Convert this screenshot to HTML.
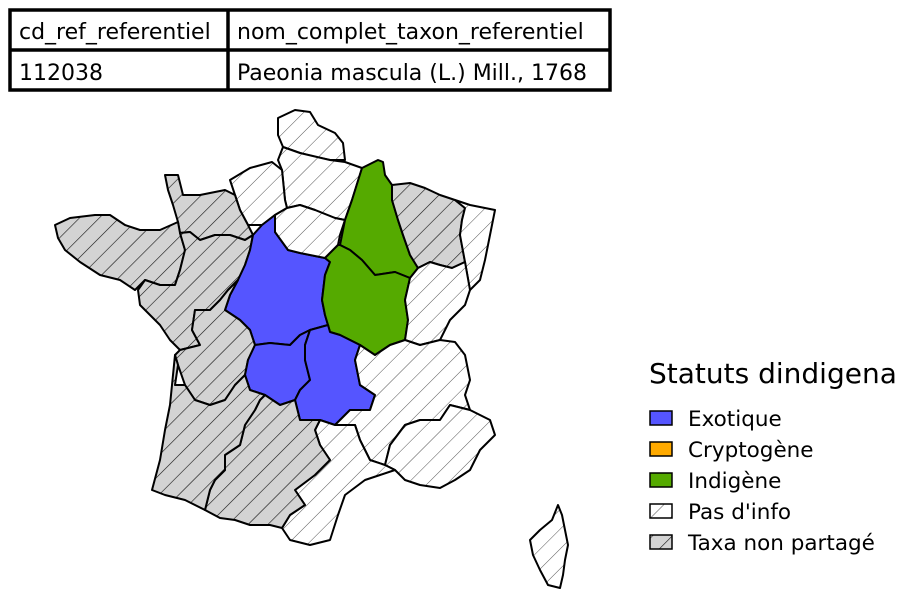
<!DOCTYPE html>
<html><head><meta charset="utf-8"><style>
html,body{margin:0;padding:0;background:#fff;}
svg{display:block;font-family:"DejaVu Sans","Liberation Sans",sans-serif;}
</style></head><body>
<svg id="chart" width="897" height="590" viewBox="0 0 897 590">
<defs>
<pattern id="hatchW" patternUnits="userSpaceOnUse" width="14" height="14" patternTransform="rotate(45)">
<rect width="14" height="14" fill="#fff"/><line x1="0" y1="0" x2="0" y2="14" stroke="#555" stroke-width="1"/>
</pattern>
<pattern id="hatchG" patternUnits="userSpaceOnUse" width="14" height="14" patternTransform="rotate(45)">
<rect width="14" height="14" fill="#d3d3d3"/><line x1="0" y1="0" x2="0" y2="14" stroke="#111" stroke-width="1.2"/>
</pattern>
</defs>
<g>
<rect x="10" y="10" width="600" height="80" fill="#fff" stroke="#000" stroke-width="3.5"/>
<line x1="10" y1="50" x2="610" y2="50" stroke="#000" stroke-width="3.5"/>
<line x1="228" y1="10" x2="228" y2="90" stroke="#000" stroke-width="3.5"/>
<text x="19" y="39" font-size="22">cd_ref_referentiel</text>
<text x="237" y="39" font-size="22">nom_complet_taxon_referentiel</text>
<text x="19" y="80" font-size="22">112038</text>
<text x="237" y="80" font-size="22">Paeonia mascula (L.) Mill., 1768</text>
</g>
<g id="map"></g>
<g>
<text x="649" y="383" font-size="28">Statuts dindigenat</text>
<g id="legend-items"></g>
</g>
</svg>
<script>
const regionNames = ["nord-pas-de-calais","picardie","haute-normandie","basse-normandie","bretagne","pays-de-la-loire","centre","ile-de-france","champagne-ardenne","lorraine","alsace","bourgogne","franche-comte","poitou-charentes","limousin","auvergne","rhone-alpes","provence-alpes-cote-dazur","languedoc-roussillon","midi-pyrenees","aquitaine","corse"];
const regionStatus = ["Pas d'info","Pas d'info","Pas d'info","Taxa non partagé","Taxa non partagé","Taxa non partagé","Exotique","Pas d'info","Indigène","Taxa non partagé","Pas d'info","Indigène","Pas d'info","Taxa non partagé","Exotique","Exotique","Pas d'info","Pas d'info","Pas d'info","Taxa non partagé","Taxa non partagé","Pas d'info"];
const legendLabels = ["Exotique","Cryptogène","Indigène","Pas d'info","Taxa non partagé"];
const fills = {"Exotique":"#5555ff","Cryptogène":"#ffaa00","Indigène":"#55aa00","Pas d'info":"url(#hatchW)","Taxa non partagé":"url(#hatchG)"};
const shapes = [
"278,118 295,110 310,112 318,125 335,133 343,143 345,160 330,160 315,157 300,153 283,147 278,135",
"283,147 300,153 330,160 345,162 362,168 352,200 345,220 335,218 315,210 300,205 287,208 285,200 282,170 278,160",
"230,180 250,168 272,162 282,170 285,200 287,208 275,215 262,225 248,225 240,210 235,195",
"165,175 178,175 183,195 200,195 225,190 235,195 240,210 248,225 253,235 245,240 230,235 215,235 200,240 190,232 180,233 178,222 173,205 168,190",
"55,225 70,218 95,215 110,215 125,225 140,230 160,230 178,222 180,233 185,250 180,270 175,285 160,285 145,280 135,290 120,280 100,275 80,262 65,250 58,238",
"180,233 190,232 200,240 215,235 230,235 245,240 253,235 250,250 245,265 238,280 228,290 220,300 210,310 195,310 192,330 200,345 180,350 170,340 160,325 150,315 140,305 138,290 145,280 160,285 175,285 180,270 185,250",
"253,235 262,225 275,215 275,232 288,250 300,253 325,258 330,262 325,275 322,300 325,315 328,325 310,330 300,335 290,345 270,343 255,345 250,330 240,320 225,310 230,295 238,280 245,265 250,250",
"275,215 287,208 300,205 315,210 335,218 345,220 340,235 338,245 325,258 300,253 288,250 275,232",
"362,168 378,160 383,162 385,175 392,185 392,200 398,220 403,235 410,255 418,268 410,278 395,272 375,275 362,260 350,250 340,245 345,220 352,200",
"392,185 410,183 425,188 440,195 455,200 465,208 462,220 460,235 465,262 452,268 440,265 430,262 418,268 410,255 403,235 398,220 392,200",
"455,200 470,205 495,210 490,235 485,260 480,280 470,290 465,262 460,235 462,220 465,208",
"340,245 350,250 362,260 375,275 395,272 410,278 405,300 408,320 405,340 390,345 375,355 360,345 340,335 330,332 328,325 325,315 322,300 325,275 330,262 325,258 338,245",
"418,268 430,262 440,265 452,268 465,262 470,290 465,305 450,320 440,340 420,345 405,340 408,320 405,300 410,278",
"200,345 192,330 195,310 210,310 220,300 228,290 238,280 230,295 225,310 240,320 250,330 255,345 248,360 245,375 235,385 225,400 210,405 195,400 185,385 178,365 175,355 180,350",
"255,345 270,343 290,345 300,335 310,330 305,345 305,360 310,380 300,390 295,400 280,405 265,395 250,390 245,375 248,360",
"310,330 328,325 330,332 340,335 360,345 355,360 360,385 375,395 370,410 350,410 335,425 320,420 300,420 295,400 300,390 310,380 305,360 305,345",
"360,345 375,355 390,345 405,340 420,345 440,340 455,342 465,355 470,380 465,395 470,410 450,405 440,420 420,420 405,425 390,445 385,465 370,460 360,440 355,425 335,425 350,410 370,410 375,395 360,385 355,360",
"385,465 390,445 405,425 420,420 440,420 450,405 470,410 490,420 495,435 480,450 470,470 455,480 440,488 420,485 405,480 395,470",
"320,420 335,425 355,425 360,440 370,460 385,465 395,470 380,475 365,480 345,495 338,515 330,540 310,545 290,540 282,528 290,515 305,505 295,490 315,475 330,460 320,445 315,430",
"265,395 280,405 295,400 300,420 320,420 315,430 320,445 330,460 315,475 295,490 305,505 290,515 282,528 270,525 250,525 235,520 220,518 205,510 210,490 215,480 225,470 225,455 240,445 245,425 255,410 260,400",
"175,385 185,385 195,400 210,405 225,400 235,385 245,375 250,390 265,395 260,400 255,410 245,425 240,445 225,455 225,470 215,480 210,490 205,510 185,500 165,495 152,490 160,460 165,430 170,405 175,355 178,365",
"558,505 562,515 565,530 568,545 565,560 563,575 560,588 548,585 540,570 533,555 530,540 540,530 552,520 556,510"
];
const NS = "http://www.w3.org/2000/svg";
const map = document.getElementById('map');
regionNames.forEach((n,i)=>{
  const p = document.createElementNS(NS,'polygon');
  p.setAttribute('points', shapes[i]);
  p.setAttribute('fill', fills[regionStatus[i]]);
  p.setAttribute('stroke', '#000');
  p.setAttribute('stroke-width', '2');
  p.setAttribute('stroke-linejoin', 'round');
  
  
  map.appendChild(p);
});
const leg = document.getElementById('legend-items');
legendLabels.forEach((l,i)=>{
  const y = 411 + i*31;
  const r = document.createElementNS(NS,'rect');
  r.setAttribute('x', 650); r.setAttribute('y', y);
  r.setAttribute('width', 22); r.setAttribute('height', 14);
  r.setAttribute('fill', fills[l]); r.setAttribute('stroke', '#000'); r.setAttribute('stroke-width', '1.5');
  
  
  leg.appendChild(r);
  const t = document.createElementNS(NS,'text');
  t.setAttribute('x', 688); t.setAttribute('y', y + 15);
  t.setAttribute('font-size', '21.5');
  t.textContent = l;
  
  
  leg.appendChild(t);
});
</script>
</body></html>
